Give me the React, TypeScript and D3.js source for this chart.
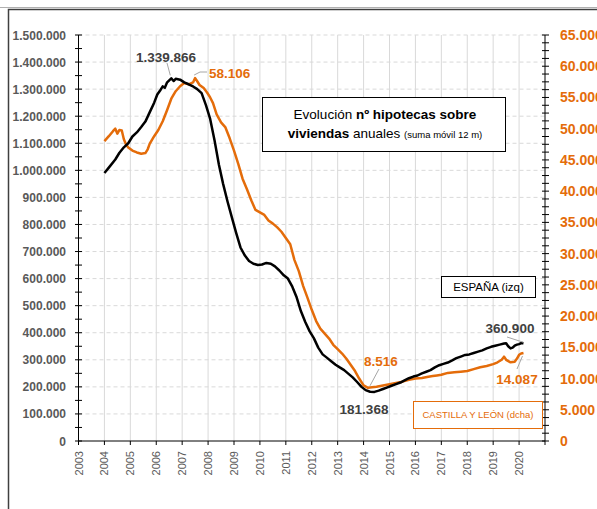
import React from 'react';
import * as d3 from 'd3';

// España (left axis), 12-month moving sum of mortgages on dwellings
const espanaDates = [
  2004.0, 2004.17, 2004.42, 2004.58, 2004.75, 2004.92, 2005.08, 2005.25, 2005.42, 2005.58,
  2005.75, 2005.92, 2006.04, 2006.17, 2006.25, 2006.33, 2006.42, 2006.58, 2006.67, 2006.75,
  2006.92, 2007.08, 2007.25, 2007.42, 2007.58, 2007.75, 2007.92, 2008.08, 2008.25, 2008.42,
  2008.58, 2008.75, 2008.92, 2009.08, 2009.25, 2009.42, 2009.58, 2009.75, 2009.92, 2010.08,
  2010.25, 2010.42, 2010.58, 2010.75, 2010.92, 2011.08, 2011.25, 2011.42, 2011.58, 2011.75,
  2011.92, 2012.08, 2012.25, 2012.42, 2012.58, 2012.75, 2012.92, 2013.08, 2013.25, 2013.42,
  2013.58, 2013.75, 2013.92, 2014.08, 2014.25, 2014.42, 2014.58, 2014.75, 2014.92, 2015.08,
  2015.25, 2015.42, 2015.58, 2015.75, 2015.92, 2016.08, 2016.25, 2016.42, 2016.58, 2016.75,
  2016.92, 2017.08, 2017.25, 2017.42, 2017.58, 2017.75, 2017.92, 2018.08, 2018.25, 2018.42,
  2018.58, 2018.75, 2018.92, 2019.08, 2019.25, 2019.42, 2019.5, 2019.58, 2019.67, 2019.75,
  2019.83, 2019.92, 2020.0, 2020.08, 2020.17,
];
const espanaValues = [
  990000, 1010000, 1040000, 1065000, 1085000, 1100000, 1125000, 1140000, 1160000, 1180000,
  1215000, 1250000, 1280000, 1298000, 1310000, 1305000, 1325000, 1339866, 1330000, 1338000,
  1335000, 1325000, 1318000, 1310000, 1300000, 1285000, 1240000, 1190000, 1110000, 1020000,
  950000, 885000, 825000, 770000, 715000, 685000, 665000, 655000, 650000, 652000,
  658000, 655000, 645000, 630000, 612000, 600000, 570000, 530000, 480000, 440000,
  405000, 380000, 345000, 320000, 308000, 295000, 282000, 272000, 262000, 248000,
  235000, 218000, 200000, 188000, 182000, 181368, 186000, 192000, 198000, 204000,
  210000, 216000, 224000, 232000, 238000, 242000, 250000, 256000, 262000, 272000,
  280000, 285000, 290000, 298000, 306000, 312000, 318000, 320000, 325000, 330000,
  335000, 342000, 348000, 352000, 356000, 360000, 361000, 350000, 342000, 345000,
  352000, 356000, 358000, 362000, 360900,
];

// Castilla y León (right axis)
const cylDates = [
  2004.0, 2004.17, 2004.33, 2004.42, 2004.5, 2004.58, 2004.67, 2004.75, 2004.83, 2004.92,
  2005.08, 2005.25, 2005.42, 2005.58, 2005.67, 2005.75, 2005.92, 2006.08, 2006.25, 2006.42,
  2006.58, 2006.75, 2006.92, 2007.08, 2007.25, 2007.42, 2007.5, 2007.58, 2007.67, 2007.83,
  2007.96, 2008.08, 2008.19, 2008.33, 2008.5, 2008.67, 2008.83, 2009.0, 2009.17, 2009.33,
  2009.5, 2009.67, 2009.83, 2010.0, 2010.17, 2010.33, 2010.5, 2010.67, 2010.83, 2011.0,
  2011.17, 2011.33, 2011.5, 2011.67, 2011.83, 2012.0, 2012.17, 2012.33, 2012.5, 2012.67,
  2012.83, 2013.0, 2013.17, 2013.33, 2013.5, 2013.67, 2013.83, 2014.0, 2014.17, 2014.33,
  2014.5, 2014.75, 2015.0, 2015.25, 2015.5, 2015.75, 2016.0, 2016.25, 2016.5, 2016.67,
  2016.83, 2017.0, 2017.25, 2017.5, 2017.75, 2018.0, 2018.25, 2018.5, 2018.75, 2019.0,
  2019.17, 2019.33, 2019.42, 2019.5, 2019.67, 2019.83, 2019.92, 2020.0, 2020.08, 2020.17,
];
const cylValues = [
  48000, 48800, 49600, 50000, 49200, 49800, 49700, 48300, 47500, 47000,
  46500, 46200, 46000, 46100, 46700, 47600, 48800, 49800, 51200, 53000,
  54800, 56000, 56800, 57300, 57100, 57400, 58106, 57600, 57000, 56500,
  55800, 55000, 54100, 52300, 51000, 50200, 48500, 46500, 44300, 42000,
  40300, 38500, 37000, 36600, 36200, 35300, 34800, 34200, 33500, 32500,
  31500, 29000, 27200, 24800, 23000, 21000, 19200, 18000, 17200, 16400,
  15400, 14700, 14000, 13200, 12200, 11200, 10000, 8900, 8516, 8600,
  8700, 8900, 9100, 9300, 9500, 9800, 10000, 10100, 10300, 10400,
  10500, 10600, 10900, 11000, 11100, 11200, 11500, 11800, 12000, 12300,
  12600, 13000, 13500, 13000, 12600, 12700, 13200, 13800, 14000, 14087,
];

const years = d3.range(2003, 2021);
const leftTicks = d3.range(0, 1500001, 100000);
const rightTicks = d3.range(0, 65001, 5000);

const ORANGE = '#E46C0A';
const GRAY_TXT = '#595959';
const DARK_TXT = '#404040';
const FONT = '"Liberation Sans", Arial, sans-serif';

const locale = d3.formatLocale({ decimal: ',', thousands: '.', grouping: [3], currency: ['', '€'] });
const fmt = locale.format(',d');

export default function App() {
  const x = d3.scaleLinear().domain([2003, 2021]).range([78.5, 545]);
  const yL = d3.scaleLinear().domain([0, 1500000]).range([441, 35]);
  const yR = d3.scaleLinear().domain([0, 65000]).range([441, 35]);

  const lineL = d3.line<number>().x((d, i) => x(espanaDates[i])).y(d => yL(d));
  const lineR = d3.line<number>().x((d, i) => x(cylDates[i])).y(d => yR(d));

  const iPeakE = espanaValues.indexOf(d3.max(espanaValues)!);
  const iMinE = espanaValues.indexOf(d3.min(espanaValues)!);
  const iPeakC = cylValues.indexOf(d3.max(cylValues)!);
  const iMinC = cylValues.indexOf(d3.min(cylValues)!);
  const iEndE = espanaValues.length - 1;
  const iEndC = cylValues.length - 1;

  const x0 = x.range()[0];
  const x1 = x.range()[1];

  return (
    <svg width={597} height={509} style={{ position: 'absolute', left: 0, top: 0, background: '#fff' }}
      fontFamily={FONT}>
      {/* outer frame */}
      <line x1={0} x2={597} y1={7.5} y2={7.5} stroke="#b0b0b0" strokeWidth={1} />
      <path d="M8.5,509 V9.5 H597" fill="none" stroke="#404040" strokeWidth={1.5} />

      {/* grid */}
      {years.slice(1).map(yr => (
        <line key={'vg' + yr} x1={x(yr)} x2={x(yr)} y1={35} y2={441} stroke="#d9d9d9" strokeWidth={1} />
      ))}
      {leftTicks.slice(1).map(v => (
        <line key={'hg' + v} x1={x0} x2={x1} y1={yL(v)} y2={yL(v)} stroke="#d9d9d9" strokeWidth={1} strokeDasharray="4,3" />
      ))}

      {/* left axis */}
      <line x1={x0} x2={x0} y1={35} y2={441} stroke="#000" strokeWidth={1} />
      {d3.range(0, 1500001, 50000).map(v => (
        <line key={'lt' + v} x1={x0 - 3.5} x2={x0 + 3.5} y1={yL(v)} y2={yL(v)} stroke="#000" strokeWidth={1} />
      ))}
      {leftTicks.map(v => (
        <text key={'ll' + v} x={66} y={yL(v) + 4.5} textAnchor="end" fontSize={12} fontWeight="bold" fill={GRAY_TXT}>
          {fmt(v)}
        </text>
      ))}

      {/* right axis */}
      <line x1={x1} x2={x1} y1={35} y2={441} stroke="#000" strokeWidth={1} />
      {d3.range(0, 65001, 1250).map(v => (
        <line key={'rt' + v} x1={x1 - 3} x2={x1 + 4} y1={yR(v)} y2={yR(v)} stroke="#000" strokeWidth={1} />
      ))}
      {rightTicks.map(v => (
        <text key={'rl' + v} x={560} y={yR(v) + 5} fontSize={14} fontWeight="bold" fill={ORANGE}>
          {fmt(v)}
        </text>
      ))}

      {/* x axis */}
      <line x1={x0} x2={x1} y1={441} y2={441} stroke="#000" strokeWidth={1} />
      {d3.range(2003, 2022).map(yr => (
        <line key={'xt' + yr} x1={x(yr)} x2={x(yr)} y1={441} y2={445} stroke="#000" strokeWidth={1} />
      ))}
      {years.map(yr => (
        <text key={'xl' + yr} transform={`translate(${x(yr) + 4},451) rotate(-90)`} textAnchor="end"
          fontSize={11} fill={GRAY_TXT}>
          {yr}
        </text>
      ))}

      {/* series */}
      <path d={lineR(cylValues)!} fill="none" stroke={ORANGE} strokeWidth={2.5} strokeLinejoin="round" />
      <path d={lineL(espanaValues)!} fill="none" stroke="#000" strokeWidth={2.5} strokeLinejoin="round" />

      {/* leader lines */}
      <g stroke="#a6a6a6" strokeWidth={1} fill="none">
        <line x1={167} y1={63} x2={x(espanaDates[iPeakE]) - 1} y2={yL(espanaValues[iPeakE]) - 3} />
        <polyline points={`${x(cylDates[iPeakC]) - 1},${yR(cylValues[iPeakC]) - 3} 200,72 207,72`} />
        <line x1={379} y1={369} x2={x(cylDates[iMinC]) + 2} y2={yR(cylValues[iMinC]) - 2} />
        <line x1={507} y1={337} x2={x(espanaDates[iEndE])} y2={yL(espanaValues[iEndE]) - 1} />
        <line x1={517} y1={369} x2={x(cylDates[iEndC]) - 1} y2={yR(cylValues[iEndC]) + 3} />
      </g>

      {/* data labels */}
      <text x={166} y={62} textAnchor="middle" fontSize={13.5} fontWeight="bold" fill={DARK_TXT}>{fmt(espanaValues[iPeakE])}</text>
      <text x={209} y={78} fontSize={13.5} fontWeight="bold" fill={ORANGE}>{fmt(cylValues[iPeakC])}</text>
      <text x={381} y={366} textAnchor="middle" fontSize={13.5} fontWeight="bold" fill={ORANGE}>{fmt(cylValues[iMinC])}</text>
      <text x={364} y={414} textAnchor="middle" fontSize={13.5} fontWeight="bold" fill={DARK_TXT}>{fmt(espanaValues[iMinE])}</text>
      <text x={510} y={333} textAnchor="middle" fontSize={13.5} fontWeight="bold" fill={DARK_TXT}>{fmt(espanaValues[iEndE])}</text>
      <text x={517} y={384} textAnchor="middle" fontSize={13.5} fontWeight="bold" fill={ORANGE}>{fmt(cylValues[iEndC])}</text>

      {/* title box */}
      <rect x={262.5} y={97.5} width={243} height={54} fill="#fff" stroke="#000" strokeWidth={1} />
      <text x={385} y={119} textAnchor="middle" fontSize={13.5} fill="#000">
        Evolución <tspan fontWeight="bold">nº hipotecas sobre</tspan>
      </text>
      <text x={385} y={138} textAnchor="middle" fontSize={13.5} fill="#000">
        <tspan fontWeight="bold">viviendas</tspan> anuales <tspan fontSize={9.5}>(suma móvil 12 m)</tspan>
      </text>

      {/* legend boxes */}
      <rect x={441.5} y={276.5} width={94} height={21} fill="#fff" stroke="#000" strokeWidth={1} />
      <text x={488.5} y={291} textAnchor="middle" fontSize={11.5} fill="#000">ESPAÑA (izq)</text>

      <rect x={413.5} y={401.5} width={129} height={27} fill="#fff" stroke={ORANGE} strokeWidth={1} />
      <text x={478} y={418} textAnchor="middle" fontSize={9.5} fill={ORANGE}>CASTILLA Y LEÓN (dcha)</text>
    </svg>
  );
}
